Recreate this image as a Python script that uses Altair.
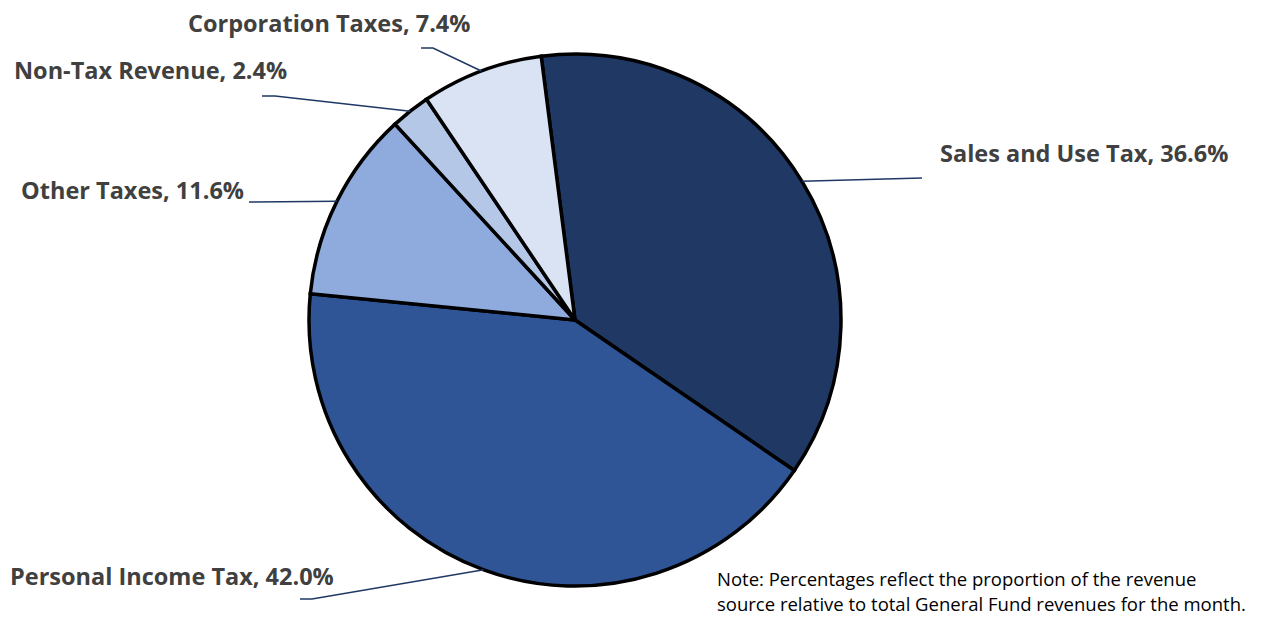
import math
import altair as alt
import pandas as pd

# ---- data ----
categories = ["Sales and Use Tax", "Personal Income Tax", "Other Taxes", "Non-Tax Revenue", "Corporation Taxes"]
shares = [36.6, 42.0, 11.6, 2.4, 7.4]
colors = ["#203864", "#2F5597", "#8FAADC", "#B4C7E7", "#DAE3F3"]
note_lines = ["Note: Percentages reflect the proportion of the revenue",
              "source relative to total General Fund revenues for the month."]

# ---- layout (page pixels) ----
W, H = 1249, 609
M = 8
CX, CY, R = 575, 320, 266
START_DEG = -7.3
label_anchor = {  # x, y, align
    "Sales and Use Tax": (940, 155, "left"),
    "Personal Income Tax": (10, 578, "left"),
    "Other Taxes": (244, 192, "right"),
    "Non-Tax Revenue": (14, 72, "left"),
    "Corporation Taxes": (188, 25, "left"),
}
leader_bend = {
    "Sales and Use Tax": [(922, 178)],
    "Personal Income Tax": [(300, 599), (312, 599)],
    "Other Taxes": [(249, 202)],
    "Non-Tax Revenue": [(262, 96), (275, 96)],
    "Corporation Taxes": [(421, 48), (433, 48)],
}

pie_df = pd.DataFrame({"cat": categories, "share": shares, "order": list(range(len(categories)))})

# leader lines: bend points + edge point at slice mid-angle
total = sum(shares)
rows, labels = [], []
cum = 0.0
for c, s in zip(categories, shares):
    mid = math.radians(START_DEG) + 2 * math.pi * (cum + s / 2) / total
    cum += s
    ex, ey = CX + R * math.sin(mid), CY - R * math.cos(mid)
    pts = leader_bend[c] + [(ex, ey)]
    for i, (px, py) in enumerate(pts):
        rows.append({"cat": c, "i": i, "x": px - M, "y": py - M})
    lx, ly, al = label_anchor[c]
    labels.append({"cat": c, "x": lx - M, "y": ly - M, "align": al, "label": f"{c}, {s:.1f}%"})
lead_df = pd.DataFrame(rows)
lab_df = pd.DataFrame(labels)
note_df = pd.DataFrame({"t": note_lines, "x": [717 - M] * 2, "y": [580 - M, 605 - M]})

xs = alt.Scale(domain=[0, W], nice=False, zero=False)
ys = alt.Scale(domain=[H, 0], nice=False, zero=False)
X = lambda: alt.X("x:Q", scale=xs, axis=None)
Y = lambda: alt.Y("y:Q", scale=ys, axis=None)

start = math.radians(START_DEG)
pie = alt.Chart(pie_df).mark_arc(radius=R, stroke="black", strokeWidth=3.5).encode(
    theta=alt.Theta("share:Q", stack=True, scale=alt.Scale(range=[start, start + 2 * math.pi])),
    order=alt.Order("order:Q"),
    color=alt.Color("cat:N", scale=alt.Scale(domain=categories, range=colors), legend=None),
    x=alt.value(CX - M),
    y=alt.value(CY - M),
)

leaders = alt.Chart(lead_df).mark_line(color="#1F3864", strokeWidth=1.5).encode(
    x=X(), y=Y(), detail="cat:N", order="i:Q"
)

text_common = dict(font="Open Sans", fontSize=23.5, fontWeight="bold", color="#404040", baseline="middle")
lab_left = alt.Chart(lab_df[lab_df["align"] == "left"]).mark_text(align="left", **text_common).encode(
    x=X(), y=Y(), text="label:N")
lab_right = alt.Chart(lab_df[lab_df["align"] == "right"]).mark_text(align="right", **text_common).encode(
    x=X(), y=Y(), text="label:N")

note = alt.Chart(note_df).mark_text(align="left", baseline="middle", font="Open Sans", fontSize=18.5,
                                    color="#000000").encode(x=X(), y=Y(), text="t:N")

chart = alt.layer(pie, leaders, lab_left, lab_right, note).properties(
    width=W, height=H, padding=0, autosize=alt.AutoSizeParams(type="none")
).configure_view(stroke=None)

chart.save("out.html", embed_options={"renderer": "svg", "actions": False})
